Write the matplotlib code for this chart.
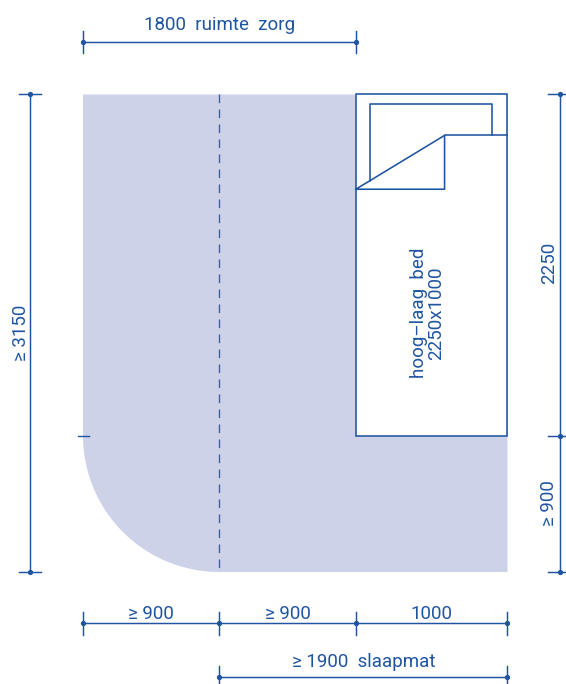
import numpy as np
import matplotlib
matplotlib.use("Agg")
import matplotlib.pyplot as plt
from matplotlib.patches import Polygon, Rectangle

# drawing values, millimetres
room_width = 2800
room_height = 3150
corner_radius = 900
bottom_widths = [900, 900, 1000]
bottom_labels = ["≥ 900", "≥ 900", "1000"]
care_width = 1800
care_label = "1800  ruimte  zorg"
mat_start = 900
mat_width = 1900
mat_label = "≥ 1900  slaapmat"
total_label = "≥ 3150"
bed_x = 1800
bed_y = 900
bed_width = 1000
bed_length = 2250
bed_side_labels = ["≥ 900", "2250"]
bed_label = "hoog–laag  bed\n2250x1000"
pillow_left, pillow_right, pillow_top = 1890, 2700, 3090
fold_x, fold_top, fold_bottom = 2385, 2880, 2525

BLUE = "#1f55a0"
FILL = "#cdd2e9"
DASH = "#3f5f9f"
FS = 13.5
FONT = ["Roboto", "DejaVu Sans"]

W, H = 566, 684
S = 0.1516
X0, Y0 = 83, 572  # pixel position of the drawing origin

fig = plt.figure(figsize=(W / 100, H / 100), dpi=100)
ax = fig.add_axes([0, 0, 1, 1])
ax.set_xlim(-X0 / S, (W - X0) / S)
ax.set_ylim(-(H - Y0) / S, Y0 / S)
ax.axis("off")

# floor area with rounded corner
t = np.linspace(np.pi, 1.5 * np.pi, 60)
arc = np.column_stack([corner_radius + corner_radius * np.cos(t),
                       corner_radius + corner_radius * np.sin(t)])
pts = np.vstack([[[0, room_height]], arc, [[room_width, 0], [room_width, room_height]]])
ax.add_patch(Polygon(pts, closed=True, fc=FILL, ec="none", zorder=1))

# centre dashed line
ax.plot([900, 900], [room_height, 0], color=DASH, lw=1.0,
        dashes=(6.2, 4.6), zorder=2)

# bed
lw = 1.15
ax.add_patch(Rectangle((bed_x, bed_y), bed_width, bed_length, fc="white",
                       ec=BLUE, lw=lw, zorder=3))
diag = lambda x: fold_bottom + (x - bed_x) * (fold_top - fold_bottom) / (fold_x - bed_x)
ax.plot([pillow_left, pillow_left, pillow_right, pillow_right],
        [diag(pillow_left), pillow_top, pillow_top, fold_top],
        color=BLUE, lw=lw, zorder=4)
ax.plot([bed_x, fold_x, fold_x, bed_x, bed_x],
        [fold_bottom, fold_top, fold_bottom, fold_bottom, fold_bottom],
        color=BLUE, lw=lw, zorder=4)
ax.plot([fold_x, bed_x + bed_width], [fold_top, fold_top], color=BLUE, lw=lw, zorder=4)
ax.text(bed_x + bed_width / 2 - 25, bed_y + bed_length * 0.36, bed_label, rotation=90,
        color=BLUE, fontsize=FS, family=FONT, ha="center", va="center",
        linespacing=0.95, zorder=5)

TICK = 75
DIM_LW = 1.05
def hdim(y, stops):
    ax.plot([stops[0], stops[-1]], [y, y], color=BLUE, lw=DIM_LW, zorder=4)
    for x in stops:
        ax.plot([x, x], [y - TICK, y + TICK], color=BLUE, lw=DIM_LW, zorder=4)
        ax.plot([x], [y], "o", color=BLUE, ms=3.8, mew=0, zorder=5)

def vdim(x, stops):
    ax.plot([x, x], [stops[0], stops[-1]], color=BLUE, lw=DIM_LW, zorder=4)
    for y in stops:
        ax.plot([x - TICK, x + TICK], [y, y], color=BLUE, lw=DIM_LW, zorder=4)
        ax.plot([x], [y], "o", color=BLUE, ms=3.8, mew=0, zorder=5)

def label(x, y, s, rot=0):
    ax.text(x, y, s, color=BLUE, fontsize=FS, family=FONT, rotation=rot,
            ha="center", va="center", zorder=5)

# top dimension
top_y = room_height + 346
hdim(top_y, [0, care_width])
label(care_width / 2, top_y + 112, care_label)

# bottom dimensions
bot_y = -338
stops = np.concatenate([[0], np.cumsum(bottom_widths)])
hdim(bot_y, stops)
for a, b, s in zip(stops[:-1], stops[1:], bottom_labels):
    label((a + b) / 2, bot_y + 62, s)

mat_y = -692
hdim(mat_y, [mat_start, mat_start + mat_width])
label(mat_start + mat_width / 2, mat_y + 100, mat_label)

# left dimension
left_x = -350
vdim(left_x, [0, room_height])
label(left_x - 60, room_height * 0.5, total_label, rot=90)
ax.plot([-30, 40], [corner_radius, corner_radius], color=BLUE, lw=1.0, zorder=4)

# right dimension
right_x = 3145
vstops = [0, bed_y, bed_y + bed_length]
vdim(right_x, vstops)
for (a, b, s), dy in zip(zip(vstops[:-1], vstops[1:], bed_side_labels), [5, 12]):
    label(right_x - 68, (a + b) / 2 + dy, s, rot=90)

fig.savefig("out.png", dpi=100, facecolor="white")
